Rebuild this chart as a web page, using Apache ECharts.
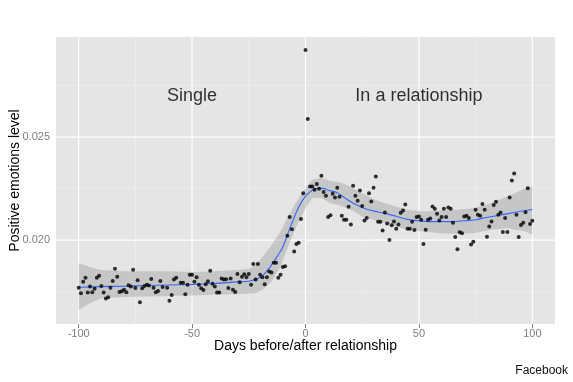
<!DOCTYPE html>
<html><head><meta charset="utf-8">
<script src="https://cdn.jsdelivr.net/npm/echarts@6/dist/echarts.min.js"></script>
<style>html,body{margin:0;padding:0;background:#fff}#c{width:573px;height:382px}</style>
</head><body><div id="c"></div>
<script>
// ---- Daily observations (days before/after relationship, positive emotion level)
const days = [
-100,-99,-98,-97,-96,-95,-94,-93,-92,-91,-90,-89,-88,-87,-86,-85,-84,-83,-82,-81,-80,-79,-78,-77,-76,-75,-74,-73,-72,-71,-70,-69,-68,-67,-66,-65,-64,-63,
-61,-60,-59,-58,-57,-55,-54,-53,-52,-51,-50,-49,-48,-47,-46,-45,-44,-43,-42,-41,-40,-39,-38,-37,-36,-35,-34,-33,-32,-31,-30,-29,-28,-27,-26,-25,-24,-23,-22,-21,
-20,-19,-18,-17,-16,-15,-14,-13,-12,-11,-10,-9,-8,-7,-6,-5,-4,-3,-2,-1,
0,1,2,3,4,5,6,7,8,9,10,11,12,13,14,15,16,17,18,19,20,21,22,23,24,25,26,27,28,29,30,31,32,33,34,35,36,37,38,39,40,41,42,43,44,45,46,47,48,49,50,
51,52,53,54,55,56,57,58,59,60,61,62,63,64,65,66,67,68,69,70,71,72,73,74,75,76,77,78,79,80,81,82,83,84,85,86,87,88,89,90,91,92,93,94,95,96,97,98,99,100
];
const values = [
0.01770,0.01743,0.01799,0.01818,0.01746,0.01775,0.01748,0.01765,0.01818,0.01827,0.01778,0.01746,0.01717,0.01723,0.01770,0.01802,0.01861,0.01823,0.01749,0.01752,0.01760,0.01748,0.01782,0.01775,0.01857,0.01768,0.01806,0.01699,0.01767,0.01778,0.01784,0.01780,0.01812,0.01770,0.01748,0.01754,0.01802,0.01773,
0.01770,0.01707,0.01734,0.01809,0.01818,0.01794,0.01794,0.01738,0.01784,0.01833,0.01833,0.01798,0.01820,0.01784,0.01767,0.01759,0.01786,0.01801,0.01852,0.01789,0.01775,0.01746,0.01746,0.01814,0.01809,0.01811,0.01768,0.01814,0.01760,0.01749,0.01836,0.01796,0.01823,0.01835,0.01820,0.01836,0.01784,0.01885,0.01809,0.01885,
0.01832,0.01820,0.01786,0.01820,0.01848,0.01843,0.01891,0.01891,0.01818,0.01832,0.01870,0.01874,0.02022,0.02112,0.02053,0.01945,0.01982,0.01988,0.02103,0.02228,
0.02922,0.02587,0.02260,0.02260,0.02244,0.02272,0.02249,0.02312,0.02233,0.02216,0.02112,0.02121,0.02225,0.02207,0.02254,0.02210,0.02118,0.02099,0.02099,0.02162,0.02076,0.02264,0.02215,0.02191,0.02241,0.02166,0.02095,0.02107,0.02228,0.02187,0.02254,0.02309,0.02089,0.02089,0.02047,0.02134,0.02081,0.02001,0.02073,0.02090,0.02056,0.02076,0.02133,0.02144,0.02173,0.02055,0.02055,0.02089,0.02049,0.02112,0.02115,
0.02099,0.01981,0.02050,0.02099,0.02105,0.02163,0.02153,0.02128,0.02095,0.02112,0.02153,0.02112,0.02158,0.02152,0.02085,0.02015,0.01956,0.02039,0.02034,0.02115,0.02119,0.02107,0.01979,0.01992,0.02147,0.02123,0.02119,0.02175,0.02147,0.02017,0.02066,0.02090,0.02171,0.02186,0.02123,0.02134,0.02040,0.02107,0.02040,0.02207,0.02289,0.02323,0.02123,0.02015,0.02074,0.02085,0.02136,0.02252,0.02079,0.02094
];

// ---- Smoothed fit
const fitDays = [-100,-90,-80,-70,-60,-50,-40,-30,-25,-20,-17,-15,-12,-10,-7,-4,-2,0,2,4,6,8,10,14,18,22,26,30,35,40,45,50,55,60,65,70,75,80,85,90,95,100];
const fitValues = [0.01772,0.01775,0.01777,0.01780,0.01783,0.01785,0.01790,0.01798,0.01801,0.01819,0.01851,0.01880,0.01929,0.01967,0.02055,0.02137,0.02181,0.02212,0.02234,0.02247,0.02252,0.02251,0.02242,0.02230,0.02200,0.02174,0.02154,0.02142,0.02130,0.02116,0.02101,0.02094,0.02090,0.02090,0.02090,0.02094,0.02099,0.02111,0.02120,0.02130,0.02140,0.02149];

// ---- Confidence band (read from the grey ribbon)
const bandDays = [-100,-95,-90,-80,-70,-60,-50,-40,-30,-25,-22,-19,-15,-11,-8,-4,0,3,7,11,15,20,25,30,35,40,45,52,60,67,74,82,89,97,100];
const bandUpper = [0.01888,0.01870,0.01856,0.01849,0.01849,0.01849,0.01846,0.01849,0.01856,0.01861,0.01880,0.01919,0.01977,0.02042,0.02107,0.02187,0.02252,0.02293,0.02301,0.02288,0.02281,0.02259,0.02228,0.02200,0.02179,0.02163,0.02147,0.02139,0.02145,0.02147,0.02155,0.02180,0.02212,0.02252,0.02260];
const bandLower = [0.01662,0.01696,0.01718,0.01725,0.01727,0.01730,0.01732,0.01737,0.01738,0.01742,0.01743,0.01759,0.01799,0.01872,0.01961,0.02066,0.02155,0.02204,0.02204,0.02179,0.02169,0.02147,0.02115,0.02099,0.02082,0.02066,0.02050,0.02042,0.02033,0.02031,0.02034,0.02050,0.02058,0.02042,0.02026];

// ---- Axes and annotations
const xTicks = [-100,-50,0,50,100];
const xMinor = [-75,-25,25,75];
const yTicks = [0.020,0.025];
const yMinor = [0.0175,0.0225,0.0275];
const xRange = [-110,110];
const yRange = [0.015937,0.02985];
const annotLabels = ['Single','In a relationship'];
const annotDays = [-50,50];
const annotValues = [0.027,0.027];

const FONT = '"Liberation Sans", Arial, sans-serif';
const chart = echarts.init(document.getElementById('c'), null, {renderer:'canvas'});

// grid line specs: [x, y, vertical?, major?]
const gridSpecs = [];
xMinor.forEach(v => gridSpecs.push([v, yRange[0], 1, 0]));
yMinor.forEach(v => gridSpecs.push([xRange[0], v, 0, 0]));
xTicks.forEach(v => gridSpecs.push([v, yRange[0], 1, 1]));
yTicks.forEach(v => gridSpecs.push([xRange[0], v, 0, 1]));

function renderGrid(params, api) {
  const x = api.value(0), y = api.value(1), vert = api.value(2), major = api.value(3);
  let p1, p2;
  if (vert) { p1 = api.coord([x, yRange[0]]); p2 = api.coord([x, yRange[1]]); }
  else { p1 = api.coord([xRange[0], y]); p2 = api.coord([xRange[1], y]); }
  return {type:'line', silent:true,
    shape:{x1:p1[0], y1:p1[1], x2:p2[0], y2:p2[1]},
    style:{stroke: major ? '#FFFFFF' : '#F2F2F2', lineWidth: major ? 1.2 : 0.6}};
}

function renderBand(params, api) {
  if (params.dataIndex !== 0) return null;
  const pts = [];
  for (let i = 0; i < bandDays.length; i++) pts.push(api.coord([bandDays[i], bandUpper[i]]));
  for (let i = bandDays.length - 1; i >= 0; i--) pts.push(api.coord([bandDays[i], bandLower[i]]));
  return {type:'polygon', shape:{points:pts}, style:{fill:'rgba(153,153,153,0.4)'}, silent:true};
}

chart.setOption({
  animation:false,
  backgroundColor:'#ffffff',
  grid:{left:56, right:18, top:37, bottom:58, show:true, backgroundColor:'#E5E5E5', borderWidth:0,
        containLabel:false, outerBoundsMode:'none'},
  xAxis:{
    type:'value', min:xRange[0], max:xRange[1],
    name:'Days before/after relationship', nameLocation:'middle', nameGap:15.5, nameMoveOverlap:false,
    nameTextStyle:{fontFamily:FONT, fontSize:14, color:'#000'},
    axisLine:{show:false},
    axisTick:{show:true, length:4, lineStyle:{color:'#7F7F7F'}, customValues:xTicks},
    axisLabel:{fontFamily:FONT, fontSize:11, color:'#7F7F7F', margin:4.5, customValues:xTicks},
    splitLine:{show:false}
  },
  yAxis:{
    type:'value', min:yRange[0], max:yRange[1],
    name:'Positive emotions level', nameLocation:'middle', nameGap:34, nameRotate:90, nameMoveOverlap:false,
    nameTextStyle:{fontFamily:FONT, fontSize:14, color:'#000'},
    axisLine:{show:false},
    axisTick:{show:true, length:4, lineStyle:{color:'#7F7F7F'}, customValues:yTicks},
    axisLabel:{fontFamily:FONT, fontSize:11, color:'#7F7F7F', margin:6, customValues:yTicks,
      formatter:v => v.toFixed(3)},
    splitLine:{show:false}
  },
  series:[
    {type:'custom', name:'grid', z:1, silent:true, renderItem:renderGrid,
     data:gridSpecs},
    {type:'custom', name:'band', z:2, silent:true, renderItem:renderBand,
     data:bandDays.map((d,i)=>[d, bandLower[i], bandUpper[i]]), encode:{x:0, y:[1,2]}},
    {type:'line', name:'fit', z:3, silent:true, symbol:'none', smooth:0.3,
     lineStyle:{color:'#3366FF', width:1.1}, data:fitDays.map((d,i)=>[d, fitValues[i]])},
    {type:'scatter', name:'obs', z:4, symbolSize:4, itemStyle:{color:'#000'},
     data:days.map((d,i)=>[d, values[i]])},
    {type:'scatter', name:'annot', z:5, symbolSize:0, silent:true,
     label:{show:true, position:'inside', fontFamily:FONT, fontSize:18, color:'#000',
       formatter:p => annotLabels[p.dataIndex]},
     data:annotDays.map((d,i)=>[d, annotValues[i]])}
  ],
  graphic:[
    {type:'text', right:5, bottom:5, style:{text:'Facebook', fontFamily:FONT, fontSize:12, fill:'#111'}}
  ]
});
</script>
</body></html>
